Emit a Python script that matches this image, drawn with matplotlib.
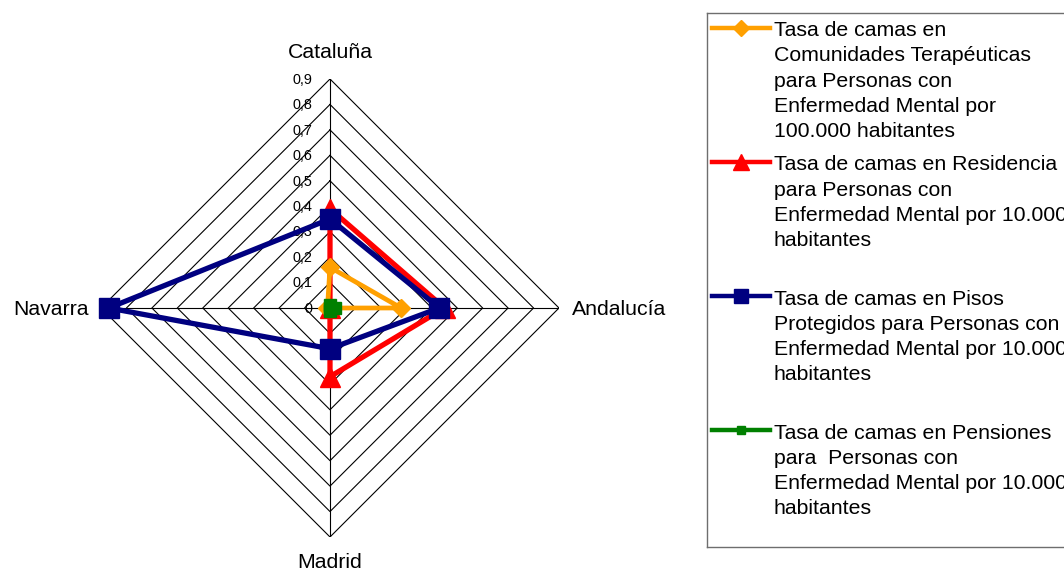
import numpy as np
import matplotlib.pyplot as plt
from matplotlib.lines import Line2D

plt.rcParams['font.family'] = ['Liberation Sans', 'DejaVu Sans']

# comunidades (en el orden de las agujas del reloj, empezando arriba)
regiones = ["Cataluña", "Andalucía", "Madrid", "Navarra"]

# tasas de camas por comunidad
com_terapeuticas = [0.16, 0.28, 0.0, 0.01]
residencias = [0.39, 0.45, 0.27, 0.0]
pisos_protegidos = [0.35, 0.43, 0.16, 0.87]
pensiones = [0.01, 0.02, 0.01, 0.0]

niveles = [0.1, 0.2, 0.3, 0.4, 0.5, 0.6, 0.7, 0.8, 0.9]
etiquetas_nivel = ["0", "0,1", "0,2", "0,3", "0,4", "0,5", "0,6", "0,7", "0,8", "0,9"]

leyenda = [
    "Tasa de camas en\nComunidades Terapéuticas\npara Personas con\nEnfermedad Mental por\n100.000 habitantes",
    "Tasa de camas en Residencia\npara Personas con\nEnfermedad Mental por 10.000\nhabitantes",
    "Tasa de camas en Pisos\nProtegidos para Personas con\nEnfermedad Mental por 10.000\nhabitantes",
    "Tasa de camas en Pensiones\npara  Personas con\nEnfermedad Mental por 10.000\nhabitantes",
]

W, H = 1064, 570
fig = plt.figure(figsize=(W / 100, H / 100), dpi=100)
fig.patch.set_facecolor("white")

# ejes del radar en pixeles: centro (330, 308), radio 229
ax = fig.add_axes([101 / W, (H - 537) / H, 458 / W, 458 / H])
ax.set_xlim(-0.9, 0.9)
ax.set_ylim(-0.9, 0.9)
ax.axis("off")

ang = np.arange(len(regiones)) * 2 * np.pi / len(regiones)
sx, sy = np.sin(ang), np.cos(ang)

# rejilla en rombo y radios
for lv in niveles:
    ax.plot(np.append(lv * sx, lv * sx[0]), np.append(lv * sy, lv * sy[0]),
            color="black", lw=0.8, zorder=1)
for i in range(len(regiones)):
    ax.plot([0, 0.9 * sx[i]], [0, 0.9 * sy[i]], color="black", lw=0.8, zorder=1)

# etiquetas del eje sobre el radio superior
for lv, txt in zip([0.0] + niveles, etiquetas_nivel):
    ax.annotate(txt, xy=(0, lv), xytext=(-12.5, 0.5), textcoords="offset points",
                ha="right", va="center_baseline", fontsize=10.4)

# nombres de las comunidades
ax.annotate(regiones[0], xy=(0, 0.9), xytext=(0, 15.3), textcoords="offset points",
            ha="center", va="baseline", fontsize=15.3)
ax.annotate(regiones[1], xy=(0.9, 0), xytext=(9.5, 0.5), textcoords="offset points",
            ha="left", va="center_baseline", fontsize=15.3)
ax.annotate(regiones[2], xy=(0, -0.9), xytext=(0, -22.3), textcoords="offset points",
            ha="center", va="baseline", fontsize=15.3)
ax.annotate(regiones[3], xy=(-0.9, 0), xytext=(-8.5, 0.5), textcoords="offset points",
            ha="right", va="center_baseline", fontsize=15.3)

series = [
    (com_terapeuticas, "#FFA000", "D", 9.5, 3.4, 5),
    (residencias, "#FF0000", "^", 14, 3.8, 3),
    (pisos_protegidos, "#000080", "s", 14.5, 3.8, 4),
    (pensiones, "#008000", "s", 8.5, 3.0, 6),
]
for vals, col, mk, ms, lw, z in series:
    v = np.array(vals)
    x = np.append(v * sx, v[0] * sx[0])
    y = np.append(v * sy, v[0] * sy[0])
    ax.plot(x, y, color=col, lw=lw, zorder=z, clip_on=False)
    ax.plot(v * sx, v * sy, ls="none", marker=mk, ms=ms, color=col,
            mec=col, zorder=z, clip_on=False)

# cuadro de leyenda (coordenadas en pixeles, y hacia abajo)
lax = fig.add_axes([707 / W, (H - 547) / H, (W + 30 - 707) / W, (547 - 13) / H])
lax.set_xlim(707, W + 30)
lax.set_ylim(547, 13)
lax.set_xticks([])
lax.set_yticks([])
for sp in lax.spines.values():
    sp.set_color("#6e6e6e")
    sp.set_linewidth(1.0)

leg_marcas = [("D", 8), ("^", 11), ("s", 10), ("s", 6)]
y0, paso = 27.5, 134.2
for i, ((vals, col, mk, ms, lw, z), (lmk, lms), txt) in enumerate(zip(series, leg_marcas, leyenda)):
    yy = y0 + i * paso
    lax.add_line(Line2D([712, 770], [yy, yy], color=col, lw=3.2))
    lax.add_line(Line2D([741], [yy], color=col, marker=lmk, ms=lms, ls="none"))
    lax.text(773.5, yy - 6.3, txt, ha="left", va="top", fontsize=15.3,
             linespacing=1.41)

fig.savefig("out.png", dpi=100)
